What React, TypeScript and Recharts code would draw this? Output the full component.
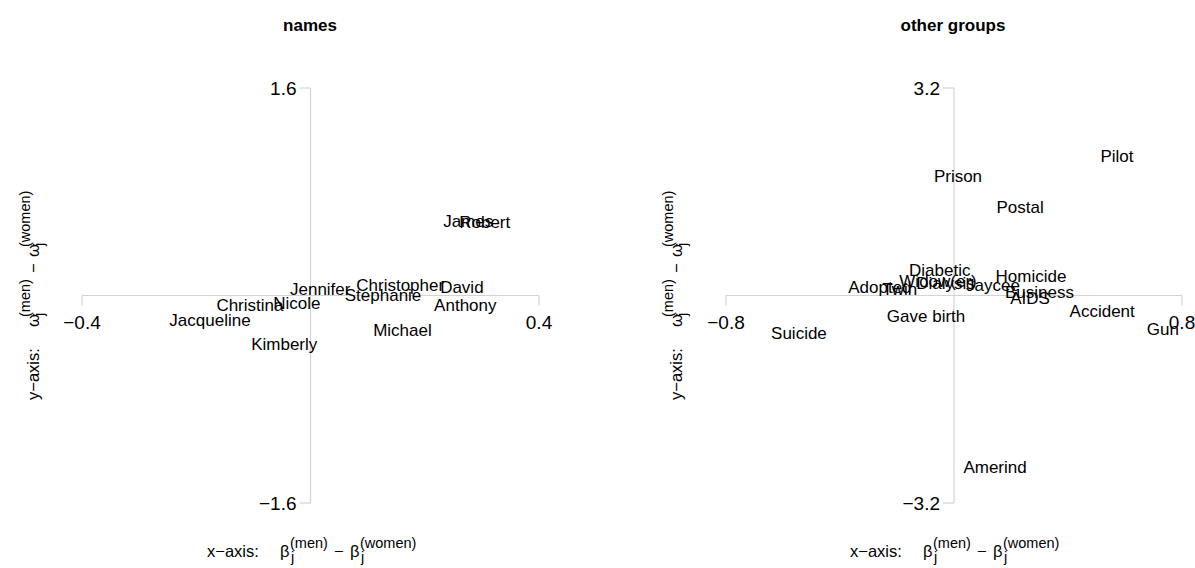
import React from "react";
import {
  ScatterChart,
  Scatter,
  XAxis,
  YAxis,
  ReferenceLine,
  ReferenceDot,
} from "recharts";

// left panel: names
const NAME_LABELS = [
  "James", "Robert", "Jennifer", "Christopher", "Stephanie", "David",
  "Anthony", "Christina", "Nicole", "Jacqueline", "Michael", "Kimberly",
];
const NAME_X = [0.276, 0.305, 0.017, 0.157, 0.127, 0.265, 0.271, -0.106, -0.024, -0.176, 0.161, -0.046];
const NAME_Y = [0.567, 0.56, 0.05, 0.08, 0.0, 0.065, -0.08, -0.08, -0.065, -0.19, -0.27, -0.38];
const NAME_X_TICKS = [-0.4, 0.4];
const NAME_Y_TICKS = [-1.6, 1.6];

// right panel: other groups
const GROUP_LABELS = [
  "Pilot", "Prison", "Postal", "Diabetic", "Widow(er)", "Dialysis", "Jaycee",
  "Adopted", "Twin", "Homicide", "Business", "AIDS", "Gave birth", "Accident",
  "Gun", "Suicide", "Amerind",
];
const GROUP_X = [0.572, 0.014, 0.232, -0.05, -0.056, -0.03, 0.137, -0.26, -0.19, 0.27, 0.3, 0.267, -0.098, 0.52, 0.733, -0.544, 0.144];
const GROUP_Y = [2.14, 1.83, 1.35, 0.38, 0.21, 0.19, 0.16, 0.13, 0.085, 0.29, 0.04, -0.04, -0.33, -0.24, -0.53, -0.58, -2.66];
const GROUP_X_TICKS = [-0.8, 0.8];
const GROUP_Y_TICKS = [-3.2, 3.2];

const FONT = "'Liberation Sans', Arial, Helvetica, sans-serif";
const AXIS_COLOR = "#d3d3d3";

const fmt = (v: number) => (v < 0 ? "\u2212" + Math.abs(v).toFixed(1) : v.toFixed(1));

const xTickShape = (label: string) => (props: any) => (
  <g>
    <line x1={props.cx} y1={props.cy} x2={props.cx} y2={props.cy + 10} stroke={AXIS_COLOR} strokeWidth={1.2} />
    <text x={props.cx} y={props.cy + 33} textAnchor="middle" fontSize={19} fontFamily={FONT} fill="#000">
      {label}
    </text>
  </g>
);

const yTickShape = (label: string) => (props: any) => (
  <g>
    <line x1={props.cx} y1={props.cy} x2={props.cx - 11} y2={props.cy} stroke={AXIS_COLOR} strokeWidth={1.2} />
    <text x={props.cx - 14} y={props.cy + 7} textAnchor="end" fontSize={19} fontFamily={FONT} fill="#000">
      {label}
    </text>
  </g>
);

const labelShape = (props: any) => (
  <text
    x={props.cx}
    y={props.cy}
    textAnchor="middle"
    dominantBaseline="central"
    fontSize={17}
    fontFamily={FONT}
    fill="#000"
  >
    {props.payload.name}
  </text>
);

interface PanelProps {
  left: number;
  width: number;
  margin: { top: number; right: number; bottom: number; left: number };
  labels: string[];
  xs: number[];
  ys: number[];
  xTicks: number[];
  yTicks: number[];
}

const Panel: React.FC<PanelProps> = ({ left, width, margin, labels, xs, ys, xTicks, yTicks }) => {
  const data = labels.map((name, i) => ({ name, x: xs[i], y: ys[i] }));
  return (
    <div style={{ position: "absolute", left, top: 0 }}>
      <ScatterChart width={width} height={568} margin={margin}>
        <XAxis type="number" dataKey="x" domain={[xTicks[0], xTicks[1]]} allowDataOverflow hide />
        <YAxis type="number" dataKey="y" domain={[yTicks[0], yTicks[1]]} allowDataOverflow hide />
        <ReferenceLine y={0} stroke={AXIS_COLOR} strokeWidth={1.2} />
        <ReferenceLine x={0} stroke={AXIS_COLOR} strokeWidth={1.2} />
        {xTicks.map((t) => (
          <ReferenceDot key={`xt${t}`} x={t} y={0} r={0} shape={xTickShape(fmt(t))} />
        ))}
        {yTicks.map((t) => (
          <ReferenceDot key={`yt${t}`} x={0} y={t} r={0} shape={yTickShape(fmt(t))} />
        ))}
        <Scatter data={data} shape={labelShape} isAnimationActive={false} />
      </ScatterChart>
    </div>
  );
};

// axis title like  x-axis:  β_j^(men) − β_j^(women)
const AxisTitle = ({ axis, sym }: { axis: string; sym: string }) => (
  <g fontFamily={FONT} fill="#000">
    <text x={0} y={0} fontSize={16.5}>{axis + "\u2212axis:"}</text>
    <text x={73} y={0} fontSize={16.5}>{sym}</text>
    <text x={83} y={-9} fontSize={14.5}>(men)</text>
    <text x={84} y={5} fontSize={14.5}>j</text>
    <text x={127} y={0} fontSize={16.5}>{"\u2212"}</text>
    <text x={143} y={0} fontSize={16.5}>{sym}</text>
    <text x={153} y={-9} fontSize={14.5}>(women)</text>
    <text x={154} y={5} fontSize={14.5}>j</text>
  </g>
);

export default function App() {
  return (
    <div style={{ position: "absolute", left: 0, top: 0, width: 1195, height: 568, background: "#fff" }}>
      <Panel
        left={0}
        width={597}
        margin={{ top: 88, right: 58, bottom: 65, left: 82 }}
        labels={NAME_LABELS}
        xs={NAME_X}
        ys={NAME_Y}
        xTicks={NAME_X_TICKS}
        yTicks={NAME_Y_TICKS}
      />
      <Panel
        left={597}
        width={598}
        margin={{ top: 88, right: 13, bottom: 65, left: 129 }}
        labels={GROUP_LABELS}
        xs={GROUP_X}
        ys={GROUP_Y}
        xTicks={GROUP_X_TICKS}
        yTicks={GROUP_Y_TICKS}
      />
      <svg
        width={1195}
        height={568}
        style={{ position: "absolute", left: 0, top: 0, pointerEvents: "none" }}
      >
        <text x={310} y={31} textAnchor="middle" fontSize={17} fontWeight="bold" fontFamily={FONT}>names</text>
        <text x={953} y={31} textAnchor="middle" fontSize={17} fontWeight="bold" fontFamily={FONT}>other groups</text>
        <g transform="translate(207,557)"><AxisTitle axis="x" sym={"\u03b2"} /></g>
        <g transform="translate(850,557)"><AxisTitle axis="x" sym={"\u03b2"} /></g>
        <g transform="translate(39,400) rotate(-90)"><AxisTitle axis="y" sym={"\u03c9"} /></g>
        <g transform="translate(682,400) rotate(-90)"><AxisTitle axis="y" sym={"\u03c9"} /></g>
      </svg>
    </div>
  );
}
